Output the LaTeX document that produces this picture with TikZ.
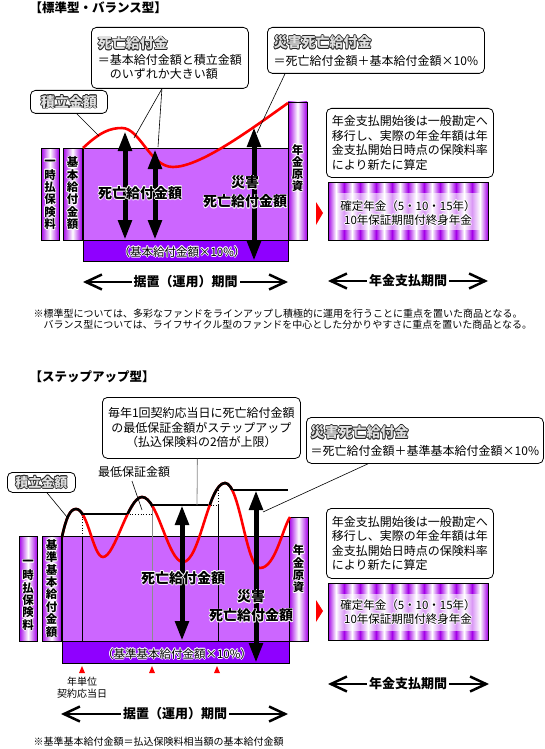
\documentclass[tikz,border=0pt]{standalone}
\usepackage{fontspec}
\setmainfont{Noto Sans CJK JP}
\usetikzlibrary{arrows.meta}
\definecolor{ink}{HTML}{000000}
\definecolor{purp}{HTML}{CC66FF}
\definecolor{deep}{HTML}{8F00FF}
\definecolor{tube}{HTML}{A400E8}
\definecolor{hot}{HTML}{FF0000}
\definecolor{rule}{HTML}{8C8C8C}
% text with a coloured rim: rim colour, text colour, text
\newcommand{\halo}[3]{\leavevmode
  \rlap{\color{#1}\hspace*{-.7pt}#3}\rlap{\color{#1}\hspace*{.7pt}#3}%
  \rlap{\color{#1}\raisebox{.7pt}{#3}}\rlap{\color{#1}\raisebox{-.7pt}{#3}}%
  \rlap{\color{#1}\hspace*{-.5pt}\raisebox{.5pt}{#3}}\rlap{\color{#1}\hspace*{.5pt}\raisebox{.5pt}{#3}}%
  \rlap{\color{#1}\hspace*{-.5pt}\raisebox{-.5pt}{#3}}\rlap{\color{#1}\hspace*{.5pt}\raisebox{-.5pt}{#3}}%
  {\color{#2}#3}}
\newcommand{\hl}[1]{\halo{white}{ink}{#1}}
\newcommand{\emb}[1]{\halo{ink!85}{ink!12}{#1}}
\newcommand{\wavepath}{(62,537) .. controls (66,518) and (70,509) .. (76,509)
  .. controls (88,509) and (93,557) .. (103,557) .. controls (115,557) and (128,497) .. (142,497)
  .. controls (158,497) and (168,562) .. (183,562) .. controls (200,562) and (208,483) .. (225,483)
  .. controls (240,483) and (246,568) .. (260,568) .. controls (275,568) and (282,530) .. (290,517)}
\tikzset{
  callout/.style={draw=ink,fill=white,rounded corners=5pt,line width=.8pt,inner sep=0pt},
  column/.style={draw=ink,line width=.6pt,left color=tube,right color=tube,middle color=white},
  vt/.style={inner sep=0pt,font=\fontsize{11.5}{12}\selectfont\bfseries},
  title/.style={anchor=west,font=\fontsize{14}{16}\selectfont\bfseries},
  bigarrow/.style={line width=5pt,{Triangle[length=20pt,width=13pt]}-{Triangle[length=20pt,width=13pt]}},
  span/.style={line width=2pt,{Straight Barb[length=16pt,width=15pt,line width=2.5pt]}-{Straight Barb[length=16pt,width=15pt,line width=2.5pt]}},
  spanlab/.style={fill=white,inner sep=2pt,font=\fontsize{13}{15}\selectfont\bfseries},
  lead/.style={ink,line width=.6pt},
  curve/.style={hot,line width=2.6pt},
  stepline/.style={ink,line width=2.6pt},
}
\begin{document}
\begin{tikzpicture}[x=1pt,y=-1pt,font=\fontsize{12}{14.5}\selectfont]
\useasboundingbox (0,0) rectangle (544,749);
\fill[white] (0,0) rectangle (544,749);
%%%%%%%%%% standard / balanced type
\node[anchor=west,font=\fontsize{12.5}{14}\selectfont\bfseries] (ttl1) at (26,8) {【標準型・バランス型】};
\node[callout,minimum width=157pt,minimum height=61pt,anchor=north west,align=left] (dbox) at (91,27)
  {{\fontsize{14}{16}\selectfont\bfseries\emb{死亡給付金}}\\[1pt]＝基本給付金額と積立金額\\\hspace*{1em}のいずれか大きい額};
\node[callout,minimum width=217pt,minimum height=46pt,anchor=north west,align=left] (sbox) at (267,27)
  {{\fontsize{14}{16}\selectfont\bfseries\emb{災害死亡給付金}}\\[3pt]＝死亡給付金額＋基本給付金額×10\%};
\node[callout,minimum width=77pt,minimum height=23pt,anchor=north west] (tbox) at (30,90)
  {\fontsize{14}{16}\selectfont\bfseries\emb{積立金額}};
% body
\fill[purp,draw=ink,line width=.6pt] (83,148) rectangle (288,240);
\fill[deep,draw=ink,line width=.6pt] (83,240) rectangle (288,261);
\draw[column] (41,148) rectangle (59,240);
\draw[column] (63,148) rectangle (82,240);
\draw[column] (288,102) rectangle (307,240);
\foreach \ch [count=\k] in {一,時,払,保,険,料} \node[vt] (pa\k) at (50,{150+12.4*\k}) {\hl{\ch}};
\foreach \ch [count=\k] in {基,本,給,付,金,額} \node[vt] (ba\k) at (72.5,{150+12.4*\k}) {\hl{\ch}};
\foreach \ch [count=\k] in {年,金,原,資} \node[vt] (pr\k) at (297.5,{138+12*\k}) {\hl{\ch}};
% accumulated amount
\draw[curve] (83,148) .. controls (100,132) and (110,128) .. (122,128)
  .. controls (140,128) and (150,167) .. (173,167) .. controls (200,167) and (250,130) .. (288,103);
% leaders
\coordinate (l1) at (134,138);
\coordinate (l2) at (158,147);
\coordinate (l3) at (257,133);
\coordinate (l4) at (99,136);
\draw[lead] ([xshift=-8pt]dbox.south) -- (l1);
\draw[lead] ([xshift=-8pt]dbox.south) -- (l2);
\draw[lead] ([xshift=18pt]sbox.south west) -- (l3);
\draw[lead] ([xshift=-31pt]tbox.south east) -- (l4);
% benefit arrows
\coordinate (a1t) at (125,131); \coordinate (a1b) at (125,240);
\coordinate (a2t) at (155,149); \coordinate (a2b) at (155,240);
\coordinate (a3t) at (254,127); \coordinate (a3b) at (254,261);
\draw[bigarrow] (a1t) -- (a1b);
\draw[bigarrow] (a2t) -- (a2b);
\draw[bigarrow] (a3t) -- (a3b);
\node[font=\fontsize{14}{16}\selectfont\bfseries] (dlab1) at (140,193) {\hl{死亡給付金額}};
\node[align=center,font=\fontsize{14}{19}\selectfont\bfseries] (slab1) at (245,192) {\hl{災害}\\\hl{死亡給付金額}};
\node[font=\fontsize{11.5}{13}\selectfont] (bar1) at (182,252) {\hl{（基本給付金額×10\%）}};
% periods
\coordinate (p1l) at (83,282); \coordinate (p1r) at (288,282);
\draw[span] (p1l) -- (p1r);
\node[spanlab] (per1) at (185.5,282) {据置（運用）期間};
\coordinate (q1l) at (328,281); \coordinate (q1r) at (488,281);
\draw[span] (q1l) -- (q1r);
\node[spanlab] (pay1) at (408,281) {年金支払期間};
% annuity side
\fill[hot] (316,202) -- (323,213) -- (316,225) -- cycle;
\node[callout,minimum width=167pt,minimum height=69pt,anchor=north west,align=left] (ibox1) at (326,108)
  {年金支払開始後は一般勘定へ\\移行し、実際の年金年額は年\\金支払開始日時点の保険料率\\により新たに算定};
\foreach \i in {0,...,9}{\shade[left color=tube,right color=tube,middle color=white] ({328+16*\i},182) rectangle +(16,58);}
\fill[white,opacity=.6] (337,193) rectangle (480,230);
\draw[ink,line width=.6pt] (328,182) rectangle (488,240);
\node[align=center,font=\fontsize{11.5}{14}\selectfont] (ann1) at (408,213) {\hl{確定年金（5・10・15年）}\\\hl{10年保証期間付終身年金}};
\node[anchor=west,align=left,font=\fontsize{10}{11}\selectfont] (note1) at (30,319.5)
  {※標準型については、多彩なファンドをラインアップし積極的に運用を行うことに重点を置いた商品となる。\\\hspace*{1em}バランス型については、ライフサイクル型のファンドを中心とした分かりやすさに重点を置いた商品となる。};
%%%%%%%%%% step-up type
\node[anchor=west,font=\fontsize{12.5}{14}\selectfont\bfseries] (ttl2) at (26,377) {【ステップアップ型】};
\node[callout,minimum width=198pt,minimum height=61pt,anchor=north west,align=center] (ubox) at (102,397)
  {毎年1回契約応当日に死亡給付金額\\の最低保証金額がステップアップ\\（払込保険料の2倍が上限）};
\node[callout,minimum width=237pt,minimum height=46pt,anchor=north west,align=left] (s2box) at (306,417)
  {{\fontsize{14}{16}\selectfont\bfseries\emb{災害死亡給付金}}\\[3pt]＝死亡給付金額＋基準基本給付金額×10\%};
\node[callout,minimum width=68pt,minimum height=20pt,anchor=north west] (t2box) at (7,472)
  {\fontsize{13}{15}\selectfont\bfseries\emb{積立金額}};
\node (mlab) at (134,472) {最低保証金額};
% body
\fill[purp,draw=ink,line width=.6pt] (62,536) rectangle (289,641);
\fill[deep,draw=ink,line width=.6pt] (62,641) rectangle (289,663);
\draw[column] (19,536) rectangle (37,641);
\draw[column] (42,536) rectangle (61,641);
\draw[column] (289,517) rectangle (308,641);
\foreach \ch [count=\k] in {一,時,払,保,険,料} \node[vt] (pb\k) at (28,{550.6+12.4*\k}) {\hl{\ch}};
\foreach \ch [count=\k] in {基,準,基,本,給,付,金,額} \node[vt] (bb\k) at (51.5,{532.6+12.4*\k}) {\hl{\ch}};
\foreach \ch [count=\k] in {年,金,原,資} \node[vt] (ps\k) at (298.5,{538+12.3*\k}) {\hl{\ch}};
% anniversaries
\draw[ink,line width=.8pt] (82,536) -- (82,641);
\draw[rule,line width=.8pt] (152,505) -- (152,641);
\draw[ink,line width=.8pt] (218,505) -- (218,641);
\draw[ink,dotted,line width=.7pt] (82,514) -- (82,536);
\draw[ink,dotted,line width=.7pt] (127,514) -- (152,514);
\draw[ink,dotted,line width=.7pt] (208,505) -- (218,505) -- (218,490);
% accumulated amount, black where it is above the guarantee
\draw[curve] \wavepath;
\begin{scope}
  \clip (40,400) -- (40,540) -- (82,540) -- (82,514) -- (152,514) -- (152,505)
    -- (218,505) -- (218,490) -- (300,490) -- (300,400) -- cycle;
  \draw[stepline] \wavepath;
\end{scope}
\draw[stepline] (82,514) -- (127,514);
\draw[stepline] (152,505) -- (208,505);
\draw[stepline] (233,490) -- (288,490);
% leaders
\coordinate (u1) at (197,505);
\coordinate (m1) at (142,510);
\coordinate (s1) at (263,512);
\coordinate (t1) at (67,517);
\draw[rule,line width=.8pt] ([xshift=-4pt]ubox.south) -- (u1);
\draw[lead] ([xshift=-2pt]mlab.south) -- (m1);
\draw[lead] ([xshift=62pt]s2box.south west) -- (s1);
\draw[lead] ([xshift=40pt]t2box.south west) -- (t1);
% benefit arrows
\coordinate (b1t) at (182,505); \coordinate (b1b) at (182,641);
\coordinate (b2t) at (256,490); \coordinate (b2b) at (256,663);
\draw[bigarrow] (b1t) -- (b1b);
\draw[bigarrow] (b2t) -- (b2b);
\node[font=\fontsize{14}{16}\selectfont\bfseries] (dlab2) at (183,578) {\hl{死亡給付金額}};
\node[align=center,font=\fontsize{14}{19}\selectfont\bfseries] (slab2) at (251,606) {\hl{災害}\\\hl{死亡給付金額}};
\node[font=\fontsize{11.5}{13}\selectfont] (bar2) at (177,654) {\hl{（基準基本給付金額×10\%）}};
\foreach \x in {82,152,217} \fill[hot] (\x-3,673) -- (\x+3,673) -- (\x,666) -- cycle;
\node[align=center,font=\fontsize{10}{12}\selectfont] (anniv) at (82,688) {年単位\\契約応当日};
% periods
\coordinate (p2l) at (61,714); \coordinate (p2r) at (288,714);
\draw[span] (p2l) -- (p2r);
\node[spanlab] (per2) at (175,714) {据置（運用）期間};
\coordinate (q2l) at (328,684); \coordinate (q2r) at (489,684);
\draw[span] (q2l) -- (q2r);
\node[spanlab] (pay2) at (408,684) {年金支払期間};
% annuity side
\fill[hot] (316,600) -- (323,611) -- (316,622) -- cycle;
\node[callout,minimum width=167pt,minimum height=70pt,anchor=north west,align=left] (ibox2) at (326,508)
  {年金支払開始後は一般勘定へ\\移行し、実際の年金年額は年\\金支払開始日時点の保険料率\\により新たに算定};
\foreach \i in {0,...,9}{\shade[left color=tube,right color=tube,middle color=white] ({328+16*\i},583) rectangle +(16,57);}
\fill[white,opacity=.6] (337,594) rectangle (480,631);
\draw[ink,line width=.6pt] (328,583) rectangle (488,640);
\node[align=center,font=\fontsize{11.5}{14}\selectfont] (ann2) at (408,612) {\hl{確定年金（5・10・15年）}\\\hl{10年保証期間付終身年金}};
\node[anchor=west,font=\fontsize{10}{11}\selectfont] (note2) at (30,742) {※基準基本給付金額＝払込保険料相当額の基本給付金額};
\end{tikzpicture}
\end{document}
